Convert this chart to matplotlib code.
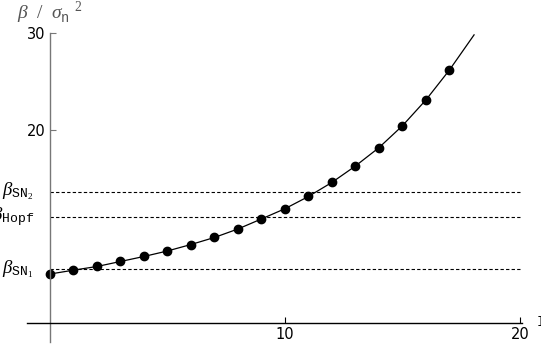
import matplotlib
matplotlib.use("Agg")
import matplotlib.pyplot as plt

plt.rcParams['mathtext.fontset'] = 'custom'
plt.rcParams['mathtext.rm'] = 'Liberation Serif'
plt.rcParams['mathtext.it'] = 'Liberation Serif:italic'
plt.rcParams['mathtext.tt'] = 'Liberation Mono'
plt.rcParams['mathtext.fallback'] = 'stix'

# values
n_vals = list(range(0, 18))
beta_vals = [5.05, 5.45, 5.83, 6.35, 6.87, 7.44, 8.11, 8.84, 9.72, 10.76,
             11.82, 13.09, 14.55, 16.25, 18.15, 20.42, 23.1, 26.2]
curve_end_x = 18.05
curve_end_y = 29.85

levels = [13.59, 10.96, 5.54]
level_labels = [r'$\beta_{\mathtt{SN}_2}$', r'$\beta_{\mathtt{Hopf}}$', r'$\beta_{\mathtt{SN}_1}$']

x_ticks = [10, 20]
y_ticks = [20, 30]

fig = plt.figure(figsize=(5.41, 3.58), dpi=100)
ax = fig.add_axes([0.049, 0.0447, 0.915, 0.8633])
ax.set_xlim(-1.0, 20.07)
ax.set_ylim(-2.0, 30.05)

for s in ['top', 'right']:
    ax.spines[s].set_visible(False)
ax.spines['left'].set_position(('data', 0))
ax.spines['bottom'].set_position(('data', 0))
ax.spines['left'].set_color('#777777')
ax.spines['left'].set_linewidth(1.0)
ax.spines['bottom'].set_linewidth(1.0)

ax.set_xticks(x_ticks)
ax.set_yticks(y_ticks)
ax.tick_params(direction='in', length=4, width=0.8, labelsize=10.5, pad=3)
ax.tick_params(axis='y', colors='#777777', labelcolor='black')

# horizontal threshold levels
for lv, lab in zip(levels, level_labels):
    ax.plot([0, 20], [lv, lv], color='black', lw=0.8, ls=(0, (3, 2)))
    ax.text(-0.68, lv, lab, ha='right', va='center', fontsize=13.5)

ax.plot(n_vals + [curve_end_x], beta_vals + [curve_end_y], color='black', lw=0.9,
        clip_on=False)
ax.plot(n_vals, beta_vals, 'o', color='black', markersize=6.0, clip_on=False)

fig.text(17 / 541, 1 - 13 / 358, r'$\beta\ \ /\ \ \sigma_{\mathtt{n}}^{\ \ \ \ 2}$',
         ha='left', va='center', fontsize=14, color='#555555')
fig.text(537 / 541, 1 - 322 / 358, 'I', ha='left', va='center', fontsize=10,
         family='Liberation Mono')

fig.savefig('out.png', dpi=100)
